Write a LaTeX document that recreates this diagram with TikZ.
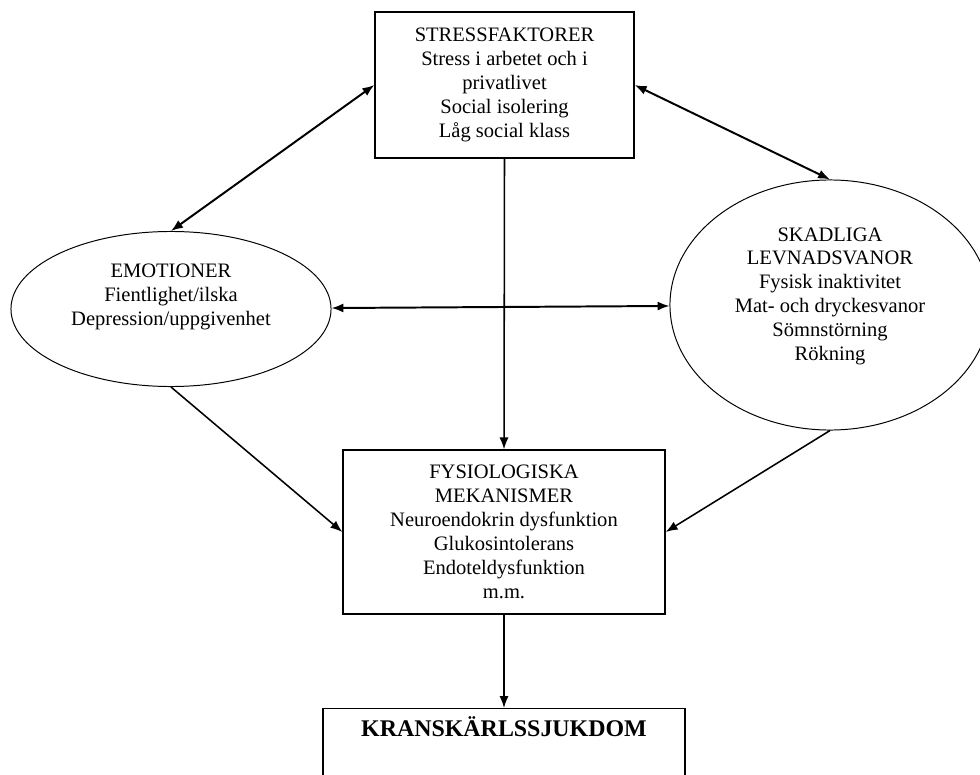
\documentclass[tikz,border=0pt]{standalone}
\usepackage{fontspec}
\setmainfont{Liberation Serif}
\usetikzlibrary{shapes.geometric,arrows.meta,positioning}

\begin{document}
\begin{tikzpicture}[
    x=0.025cm, y=-0.025cm,
    txt/.style={font=\fontsize{14.6}{17}\selectfont, align=center},
    factor/.style={rectangle, draw, line width=0.9pt, txt, inner sep=0pt},
    oval/.style={ellipse, draw, line width=0.7pt, inner sep=0pt},
    link/.style={line width=1.4pt, {Latex[length=8.5pt,width=6.5pt]}-{Latex[length=8.5pt,width=6.5pt]}},
    lead/.style={line width=1.1pt, -{Latex[length=8.5pt,width=6.5pt]}}
]
\clip (0,0) rectangle (980,775);

% Stressfaktorer
\node[factor, minimum width=6.475cm, minimum height=3.65cm] (stress) at (504.5,85) {
    STRESSFAKTORER\\
    Stress i arbetet och i\\
    privatlivet\\
    Social isolering\\
    Låg social klass
};

% Emotioner
\node[oval, minimum width=8cm, minimum height=3.875cm,
      label={[txt, yshift=0.3cm]center:{EMOTIONER\\ Fientlighet/ilska\\ Depression/uppgivenhet}}]
      (emo) at (171,309) {};

% Skadliga levnadsvanor
\node[oval, minimum width=8cm, minimum height=6.25cm,
      label={[txt, yshift=0.22cm]center:{SKADLIGA\\ LEVNADSVANOR\\ Fysisk inaktivitet\\ Mat- och dryckesvanor\\ Sömnstörning\\ Rökning}}]
      (skad) at (830,305) {};

% Fysiologiska mekanismer
\node[factor, minimum width=8.05cm, minimum height=4.1cm] (fys) at (504,532) {
    FYSIOLOGISKA\\
    MEKANISMER\\
    Neuroendokrin dysfunktion\\
    Glukosintolerans\\
    Endoteldysfunktion\\
    m.m.
};

% Kranskärlssjukdom
\node[factor, anchor=north, minimum width=9.05cm, inner ysep=0.15cm,
      text height=0.55cm, text depth=2cm, font=\fontsize{17}{20}\selectfont\bfseries]
      (kran) at (504,708) {KRANSKÄRLSSJUKDOM};

% connectors
\draw[link] (stress.west) -- (emo.north);
\draw[link] (stress.east) -- (skad.north);
\draw[link] (emo) -- (skad);
\draw[lead] (stress.south) -- (fys.north);
\draw[lead] (emo.south) -- (fys.west);
\draw[lead] (skad.south) -- (fys.east);
\draw[lead] (fys.south) -- (kran.north);

\end{tikzpicture}
\end{document}
